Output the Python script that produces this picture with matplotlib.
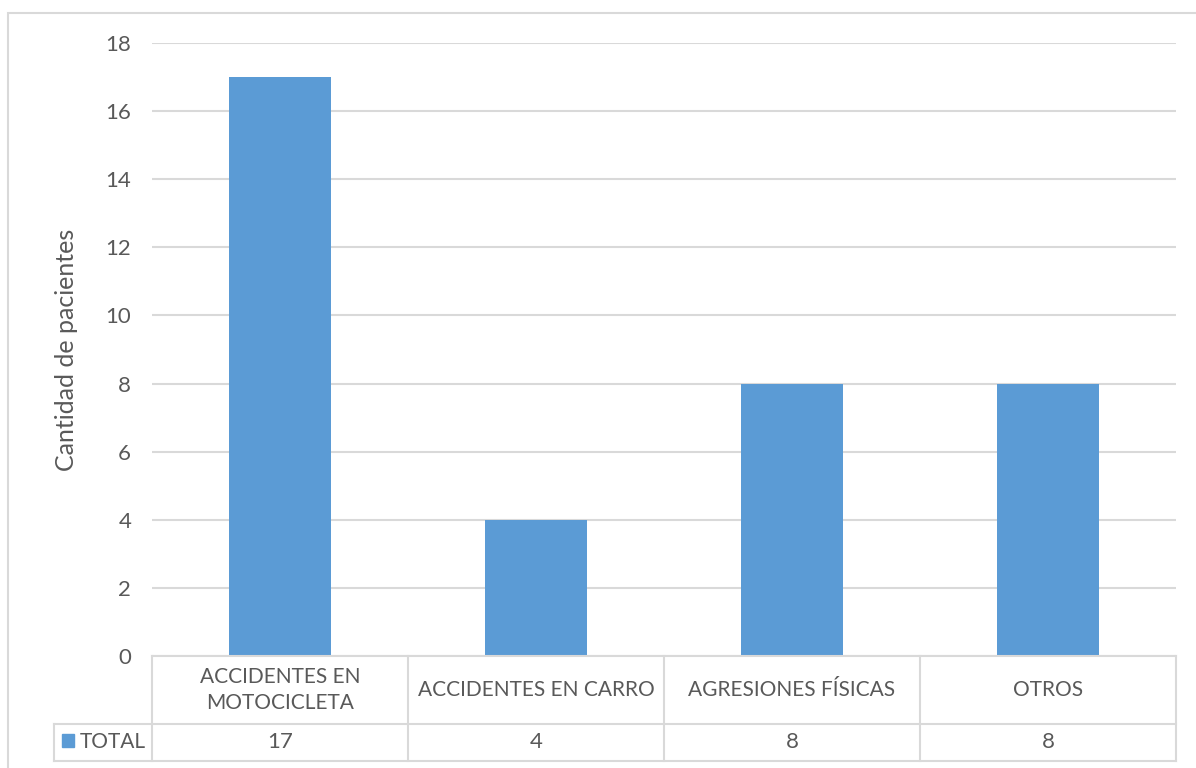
import matplotlib.pyplot as plt
from matplotlib.patches import Rectangle
from matplotlib.transforms import blended_transform_factory

categorias = ["ACCIDENTES EN\nMOTOCICLETA", "ACCIDENTES EN CARRO", "AGRESIONES FÍSICAS", "OTROS"]
pacientes = [17, 4, 8, 8]
serie = "TOTAL"
ticks_y = [0, 2, 4, 6, 8, 10, 12, 14, 16, 18]

azul = "#5b9bd5"
gris_texto = "#595959"
gris_linea = "#d9d9d9"

plt.rcParams['font.family'] = ['Lato', 'DejaVu Sans']

W, H = 1196, 768
fig = plt.figure(figsize=(W / 100, H / 100), dpi=100)

# marco exterior del grafico
fig.add_artist(Rectangle((8 / W, -0.1), 1.1, 1 - 13 / H + 0.1, transform=fig.transFigure,
                         fill=False, edgecolor=gris_linea, linewidth=1.5))

ax = fig.add_axes([152 / W, 1 - 656 / H, (1176 - 152) / W, (656 - 43) / H])
x = list(range(len(categorias)))
ax.bar(x, pacientes, width=0.4, color=azul, zorder=2)
ax.set_xlim(-0.5, len(categorias) - 0.5)
ax.set_ylim(0, 18)
ax.set_yticks(ticks_y)
ax.set_xticks([])
ax.yaxis.grid(True, color=gris_linea, linewidth=1.5)
ax.set_axisbelow(True)
for s in ["top", "right", "left"]:
    ax.spines[s].set_visible(False)
ax.spines["bottom"].set_color(gris_linea)
ax.spines["bottom"].set_linewidth(1.5)
ax.tick_params(axis="y", length=0, labelsize=16, labelcolor=gris_texto, pad=15)
ax.set_ylabel("Cantidad de pacientes", fontsize=18, color=gris_texto, labelpad=20)

# tabla de datos bajo el eje
alto = 613.0
y1 = -68 / alto
y2 = -105 / alto
trans = blended_transform_factory(ax.transData, ax.transAxes)
izq = -0.5 - 98 / 256
kw = dict(transform=trans, color=gris_linea, linewidth=1.5, clip_on=False)
ax.plot([izq, 3.5], [y1, y1], **kw)
ax.plot([izq, 3.5], [y2, y2], **kw)
ax.plot([izq, izq], [y1, y2], **kw)
for b in [-0.5, 0.5, 1.5, 2.5, 3.5]:
    ax.plot([b, b], [0, y2], **kw)

for i, (c, v) in enumerate(zip(categorias, pacientes)):
    ax.text(i, y1 / 2, c, transform=trans, ha="center", va="center",
            fontsize=15, color=gris_texto, linespacing=1.35)
    ax.text(i, (y1 + y2) / 2, str(v), transform=trans, ha="center", va="center",
            fontsize=16, color=gris_texto)

ax.add_patch(Rectangle((izq + 0.03, (y1 + y2) / 2 - 0.008), 0.05, 0.022, transform=trans,
                       color=azul, clip_on=False))
ax.text(izq + 0.1, (y1 + y2) / 2, serie, transform=trans, ha="left", va="center",
        fontsize=15, color=gris_texto)

fig.savefig("out.png", dpi=100)
